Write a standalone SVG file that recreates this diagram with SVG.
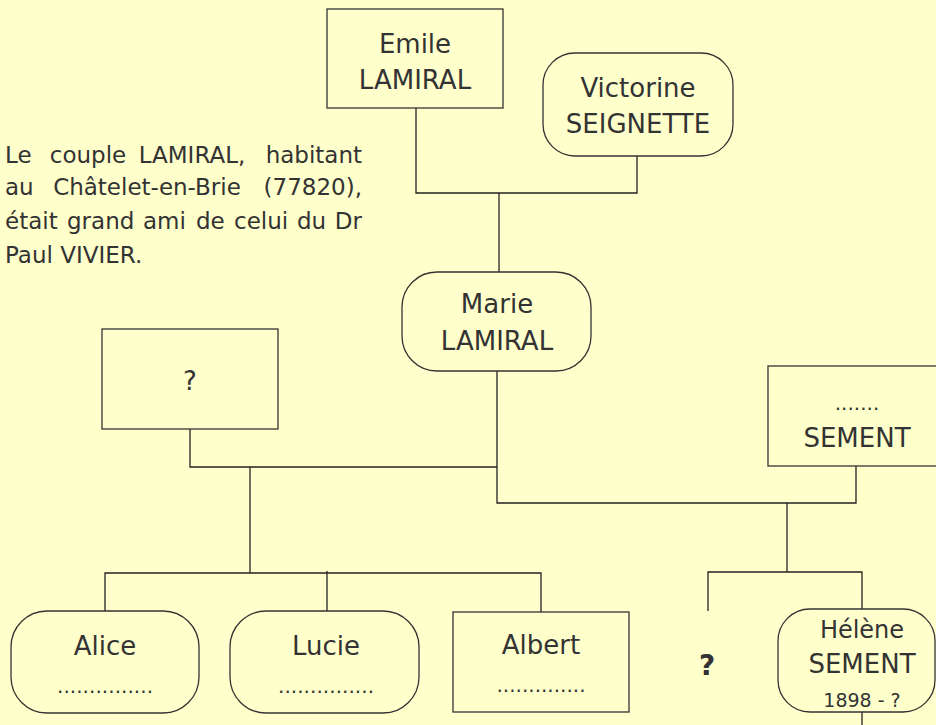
<svg xmlns="http://www.w3.org/2000/svg" width="936" height="725" viewBox="0 0 936 725">
<style>
.bg{fill:#FFFFCC}
.box{fill:#FFFFCC;stroke:#333;stroke-width:1.3}
.ln{fill:none;stroke:#222;stroke-width:1.3}
text{font-family:"Comic Sans MS","DejaVu Sans",sans-serif;fill:#333}
.n{font-size:26px;text-anchor:middle}
.d{font-size:20px;text-anchor:middle}
.p{font-size:23px}
.m{text-anchor:middle}
.e{text-anchor:end}
</style>
<rect class="bg" x="0" y="0" width="936" height="725"/>
<g id="connectors">
<polyline class="ln" points="416,108 416,193 637,193 637,156"/>
<line class="ln" x1="499" y1="193" x2="499" y2="272"/>
<polyline class="ln" points="190,429 190,467 497,467"/>
<polyline class="ln" points="497,371 497,503 856,503 856,466"/>
<line class="ln" x1="250" y1="467" x2="250" y2="573"/>
<polyline class="ln" points="105,611 105,573 541,573 541,612"/>
<line class="ln" x1="327" y1="571" x2="327" y2="611"/>
<line class="ln" x1="787" y1="503" x2="787" y2="572"/>
<polyline class="ln" points="708,611 708,572 862,572 862,609"/>
<line class="ln" x1="862" y1="712" x2="862" y2="725"/>
</g>
<g id="note">
<text class="p"><tspan x="5" y="163">Le</tspan><tspan class="m" x="88" y="163">couple</tspan><tspan class="m" x="192" y="163">LAMIRAL,</tspan><tspan class="e" x="362" y="163">habitant</tspan></text>
<text class="p"><tspan x="5" y="195">au</tspan><tspan class="m" x="147" y="195">Châtelet-en-Brie</tspan><tspan class="e" x="362" y="195">(77820),</tspan></text>
<text class="p"><tspan x="5" y="229">était</tspan><tspan x="67" y="229">grand</tspan><tspan x="143" y="229">ami</tspan><tspan x="196" y="229">de</tspan><tspan x="234" y="229">celui</tspan><tspan x="297" y="229">du</tspan><tspan class="e" x="362" y="229">Dr</tspan></text>
<text class="p" x="5" y="263">Paul VIVIER.</text>
</g>
<g id="emile">
<rect class="box" x="327" y="9" width="176" height="99"/>
<text class="n" x="415" y="53">Emile</text>
<text class="n" x="415" y="89">LAMIRAL</text>
</g>
<g id="victorine">
<rect class="box" x="543" y="53" width="190" height="103" rx="32" ry="32"/>
<text class="n" x="638" y="97">Victorine</text>
<text class="n" x="638" y="133">SEIGNETTE</text>
</g>
<g id="marie">
<rect class="box" x="402" y="272" width="189" height="99" rx="35" ry="35"/>
<text class="n" x="497" y="313">Marie</text>
<text class="n" x="497" y="350">LAMIRAL</text>
</g>
<g id="unknown-spouse">
<rect class="box" x="102" y="329" width="176" height="100"/>
<text class="n" x="190" y="390">?</text>
</g>
<g id="sement">
<rect class="box" x="768" y="366" width="170" height="100"/>
<text class="d" x="857" y="410">.......</text>
<text class="n" x="857" y="447">SEMENT</text>
</g>
<g id="alice">
<rect class="box" x="11" y="611" width="188" height="102" rx="36" ry="36"/>
<text class="n" x="105" y="655">Alice</text>
<text class="d" x="105" y="693" textLength="96" lengthAdjust="spacing">...............</text>
</g>
<g id="lucie">
<rect class="box" x="230" y="611" width="189" height="102" rx="36" ry="36"/>
<text class="n" x="326" y="655">Lucie</text>
<text class="d" x="326" y="693" textLength="96" lengthAdjust="spacing">...............</text>
</g>
<g id="albert">
<rect class="box" x="453" y="612" width="176" height="100"/>
<text class="n" x="541" y="654">Albert</text>
<text class="d" x="541" y="692" textLength="89" lengthAdjust="spacing">..............</text>
</g>
<g id="unknown-child">
<text class="n" x="707" y="675" style="font-weight:bold;font-size:28px">?</text>
</g>
<g id="helene">
<rect class="box" x="778" y="609" width="157" height="103" rx="32" ry="32"/>
<text class="n" x="862" y="638" style="font-size:24px">Hélène</text>
<text class="n" x="862" y="673">SEMENT</text>
<text class="n" x="862" y="707" style="font-size:19px">1898 - ?</text>
</g>
</svg>
